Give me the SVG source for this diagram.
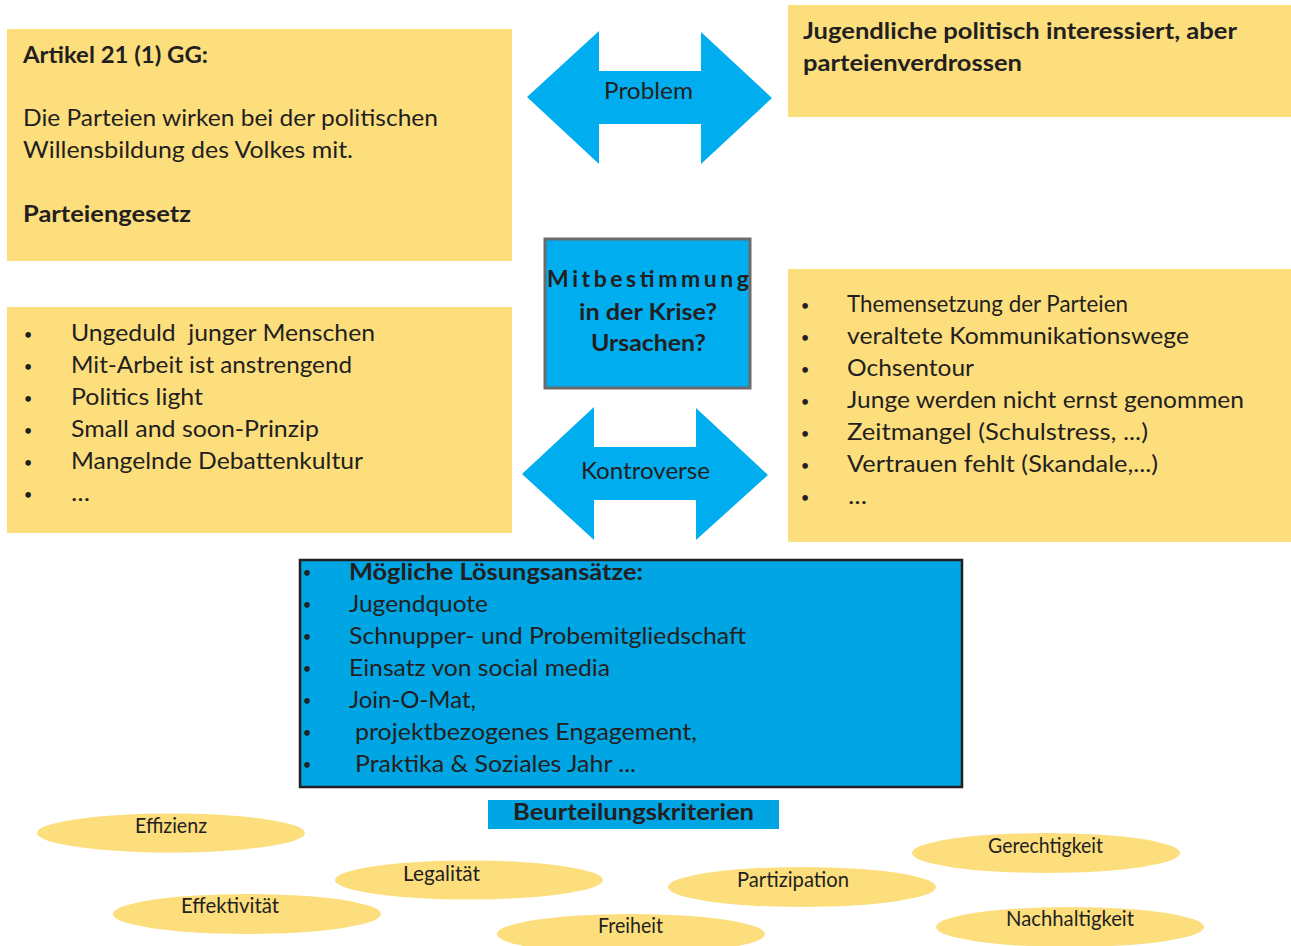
<svg xmlns="http://www.w3.org/2000/svg" width="1291" height="946" viewBox="0 0 1291 946">
<style>
.y{fill:#FDDE7D}
.t{font-family:Lato,"Open Sans","Liberation Sans",sans-serif;font-size:23px;fill:#231F20}
.b{font-weight:bold}
.d{font-family:Lato,"Open Sans","Liberation Sans",sans-serif;font-size:15px;fill:#231F20;text-anchor:middle}
.e{font-family:Lato,"Open Sans","Liberation Sans",sans-serif;font-size:21px;fill:#231F20}
.blu{fill:#00AEEF}
</style>
<rect width="1291" height="946" fill="#fff"/>
<g id="connectors">
<g id="arrow-problem">
<polygon class="blu" points="527,97 599,31 599,71 701,71 701,32 772,98 701,164 701,124 599,124 599,164"/>
<text class="t" x="604" y="99" textLength="89" lengthAdjust="spacingAndGlyphs">Problem</text>
</g>
<g id="arrow-kontroverse">
<polygon class="blu" points="522,474 594,407 594,447 696,447 696,408 768,475 696,540 696,500 594,500 594,540"/>
<text class="t" x="581" y="479" textLength="129" lengthAdjust="spacingAndGlyphs">Kontroverse</text>
</g>
</g>
<g id="node-artikel">
<rect class="y" x="7" y="29" width="505" height="232"/>
<text class="t b" x="23" y="63" font-size="22" textLength="185" lengthAdjust="spacingAndGlyphs">Artikel 21 (1) GG:</text>
<text class="t" x="23" y="126" textLength="415" lengthAdjust="spacingAndGlyphs">Die Parteien wirken bei der politischen</text>
<text class="t" x="23" y="158" textLength="330" lengthAdjust="spacingAndGlyphs">Willensbildung des Volkes mit.</text>
<text class="t b" x="23" y="222" font-size="22" textLength="168" lengthAdjust="spacingAndGlyphs">Parteiengesetz</text>
</g>
<g id="node-jugendliche">
<rect class="y" x="788" y="5" width="503" height="112"/>
<text class="t b" x="803" y="39" textLength="434" lengthAdjust="spacingAndGlyphs">Jugendliche politisch interessiert, aber</text>
<text class="t b" x="803" y="71" textLength="219" lengthAdjust="spacingAndGlyphs">parteienverdrossen</text>
</g>
<g id="node-mitbestimmung">
<rect x="545" y="239" width="205" height="149" fill="#00AEEF" stroke="#6B6B6B" stroke-width="3"/>
<text class="t b" x="547" y="287" font-size="24" textLength="202">Mitbestimmung</text>
<text class="t b" x="579" y="320" font-size="24" textLength="138" lengthAdjust="spacingAndGlyphs">in der Krise?</text>
<text class="t b" x="591" y="351" font-size="24" textLength="115" lengthAdjust="spacingAndGlyphs">Ursachen?</text>
</g>
<g id="node-ursachen-links">
<rect class="y" x="7" y="307" width="505" height="226"/>
<text class="d" x="28" y="340">•</text>
<text class="d" x="28" y="372">•</text>
<text class="d" x="28" y="404">•</text>
<text class="d" x="28" y="436">•</text>
<text class="d" x="28" y="468">•</text>
<text class="d" x="28" y="500">•</text>
<g class="t">
<text x="71" y="341" textLength="304" lengthAdjust="spacingAndGlyphs" xml:space="preserve">Ungeduld  junger Menschen</text>
<text x="71" y="373" textLength="281" lengthAdjust="spacingAndGlyphs">Mit-Arbeit ist anstrengend</text>
<text x="71" y="405" textLength="132" lengthAdjust="spacingAndGlyphs">Politics light</text>
<text x="71" y="437" textLength="248" lengthAdjust="spacingAndGlyphs">Small and soon-Prinzip</text>
<text x="71" y="469" textLength="292" lengthAdjust="spacingAndGlyphs">Mangelnde Debattenkultur</text>
<text x="71" y="501" textLength="19" lengthAdjust="spacingAndGlyphs">...</text>
</g>
</g>
<g id="node-ursachen-rechts">
<rect class="y" x="788" y="269" width="503" height="273"/>
<text class="d" x="805" y="311">•</text>
<text class="d" x="805" y="343">•</text>
<text class="d" x="805" y="375">•</text>
<text class="d" x="805" y="407">•</text>
<text class="d" x="805" y="439">•</text>
<text class="d" x="805" y="471">•</text>
<text class="d" x="805" y="503">•</text>
<g class="t">
<text x="847" y="312" textLength="281" lengthAdjust="spacingAndGlyphs">Themensetzung der Parteien</text>
<text x="847" y="344" textLength="342" lengthAdjust="spacingAndGlyphs">veraltete Kommunikationswege</text>
<text x="847" y="376" textLength="127" lengthAdjust="spacingAndGlyphs">Ochsentour</text>
<text x="847" y="408" textLength="397" lengthAdjust="spacingAndGlyphs">Junge werden nicht ernst genommen</text>
<text x="847" y="440" textLength="301" lengthAdjust="spacingAndGlyphs">Zeitmangel (Schulstress, ...)</text>
<text x="847" y="472" textLength="311" lengthAdjust="spacingAndGlyphs">Vertrauen fehlt (Skandale,...)</text>
<text x="848" y="504" textLength="19" lengthAdjust="spacingAndGlyphs">...</text>
</g>
</g>
<g id="node-loesungen">
<rect x="300" y="560" width="662" height="227" fill="#00A5E3" stroke="#231F20" stroke-width="2.5"/>
<text class="d" x="307" y="578" font-size="13">•</text>
<text class="d" x="307" y="610" font-size="13">•</text>
<text class="d" x="307" y="642" font-size="13">•</text>
<text class="d" x="307" y="674" font-size="13">•</text>
<text class="d" x="307" y="706" font-size="13">•</text>
<text class="d" x="307" y="738" font-size="13">•</text>
<text class="d" x="307" y="770" font-size="13">•</text>
<g class="t">
<text class="b" x="349" y="580" textLength="294" lengthAdjust="spacingAndGlyphs">Mögliche Lösungsansätze:</text>
<text x="349" y="612" textLength="139" lengthAdjust="spacingAndGlyphs">Jugendquote</text>
<text x="349" y="644" textLength="397" lengthAdjust="spacingAndGlyphs">Schnupper- und Probemitgliedschaft</text>
<text x="349" y="676" textLength="261" lengthAdjust="spacingAndGlyphs">Einsatz von social media</text>
<text x="349" y="708" textLength="127" lengthAdjust="spacingAndGlyphs">Join-O-Mat,</text>
<text x="355" y="740" textLength="342" lengthAdjust="spacingAndGlyphs">projektbezogenes Engagement,</text>
<text x="355" y="772" textLength="281" lengthAdjust="spacingAndGlyphs">Praktika &amp; Soziales Jahr ...</text>
</g>
</g>
<g id="node-beurteilungskriterien">
<rect x="488" y="800" width="291" height="29" fill="#00A5E3"/>
<text class="t b" x="513" y="820" textLength="241" lengthAdjust="spacingAndGlyphs">Beurteilungskriterien</text>
</g>
<g id="node-effizienz">
<ellipse class="y" cx="171" cy="833" rx="134" ry="19.5"/>
<text class="e" x="135" y="833" textLength="72" lengthAdjust="spacingAndGlyphs">Effizienz</text>
</g>
<g id="node-legalitaet">
<ellipse class="y" cx="469" cy="880" rx="134" ry="19.5"/>
<text class="e" x="403" y="881" textLength="77" lengthAdjust="spacingAndGlyphs">Legalität</text>
</g>
<g id="node-effektivitaet">
<ellipse class="y" cx="247" cy="914" rx="134" ry="20"/>
<text class="e" x="181" y="913" textLength="98" lengthAdjust="spacingAndGlyphs">Effektivität</text>
</g>
<g id="node-freiheit">
<ellipse class="y" cx="631" cy="934" rx="134" ry="20"/>
<text class="e" x="598" y="933" textLength="65" lengthAdjust="spacingAndGlyphs">Freiheit</text>
</g>
<g id="node-partizipation">
<ellipse class="y" cx="802" cy="887" rx="134" ry="20"/>
<text class="e" x="737" y="887" textLength="112" lengthAdjust="spacingAndGlyphs">Partizipation</text>
</g>
<g id="node-gerechtigkeit">
<ellipse class="y" cx="1046" cy="853" rx="134" ry="20"/>
<text class="e" x="988" y="853" textLength="115" lengthAdjust="spacingAndGlyphs">Gerechtigkeit</text>
</g>
<g id="node-nachhaltigkeit">
<ellipse class="y" cx="1070" cy="927" rx="134" ry="20"/>
<text class="e" x="1006" y="926" textLength="128" lengthAdjust="spacingAndGlyphs">Nachhaltigkeit</text>
</g>
</svg>
